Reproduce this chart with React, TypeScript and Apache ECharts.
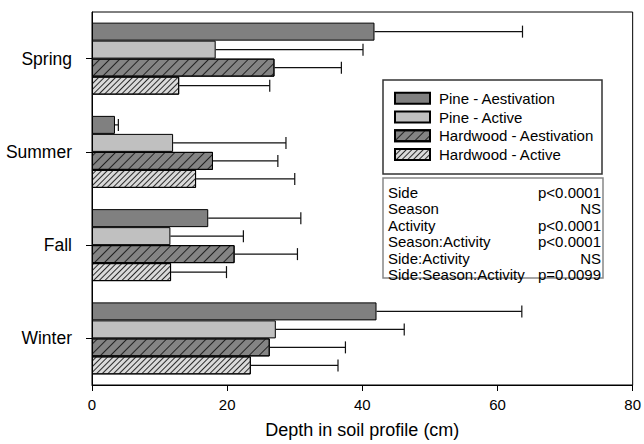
import React, { useEffect, useRef } from "react";
import * as echarts from "echarts";

// Seasons (top to bottom) and mean depth / standard error per group, in cm
const seasons = ["Spring", "Summer", "Fall", "Winter"];
const groupNames = [
  "Pine - Aestivation",
  "Pine - Active",
  "Hardwood - Aestivation",
  "Hardwood - Active",
];
const pineAestivation = [41.8, 3.4, 17.2, 42.1];
const pineAestivationErr = [21.9, 0.5, 13.7, 21.5];
const pineActive = [18.3, 12.0, 11.6, 27.2];
const pineActiveErr = [21.8, 16.7, 10.8, 19.0];
const hardwoodAestivation = [27.0, 17.9, 21.1, 26.3];
const hardwoodAestivationErr = [9.9, 9.6, 9.3, 11.2];
const hardwoodActive = [12.9, 15.4, 11.7, 23.5];
const hardwoodActiveErr = [13.4, 14.6, 8.2, 12.9];
const xTicks = [0, 20, 40, 60, 80];

// ANOVA summary
const effectNames = [
  "Side",
  "Season",
  "Activity",
  "Season:Activity",
  "Side:Activity",
  "Side:Season:Activity",
];
const effectP = ["p<0.0001", "NS", "p<0.0001", "p<0.0001", "NS", "p=0.0099"];

const FONT = "'Liberation Sans', Arial, sans-serif";
const BAR_W = 18;

const groups = [
  { name: groupNames[0], mean: pineAestivation, err: pineAestivationErr, fill: "#808080", decal: null },
  { name: groupNames[1], mean: pineActive, err: pineActiveErr, fill: "#c0c0c0", decal: null },
  {
    name: groupNames[2],
    mean: hardwoodAestivation,
    err: hardwoodAestivationErr,
    fill: "#848484",
    decal: { symbol: "rect", symbolSize: 1, color: "#222", dashArrayX: [1, 0], dashArrayY: [0.9, 5.5], rotation: -Math.PI / 4 },
  },
  {
    name: groupNames[3],
    mean: hardwoodActive,
    err: hardwoodActiveErr,
    fill: "#dadada",
    decal: { symbol: "rect", symbolSize: 1, color: "#2a2a2a", dashArrayX: [1, 0], dashArrayY: [0.8, 2.4], rotation: -Math.PI / 4 },
  },
];

export default function App() {
  const ref = useRef<HTMLDivElement>(null);

  useEffect(() => {
    if (!ref.current) return;
    const chart = echarts.init(ref.current, null, { renderer: "svg" });

    const barSeries = groups.map((g) => ({
      type: "bar",
      name: g.name,
      data: g.mean,
      barWidth: BAR_W,
      barGap: "0%",
      itemStyle: {
        color: g.fill,
        borderColor: "#000",
        borderWidth: 1,
        ...(g.decal ? { decal: g.decal } : {}),
      },
    }));

    // Upper standard-error whiskers, one per bar
    const errorSeries = groups.map((g, gi) => ({
      type: "custom",
      name: g.name + " err",
      data: g.mean.map((m, i) => [i, m, +(m + g.err[i]).toFixed(2)]),
      encode: { y: 0, x: [1, 2] },
      z: 3,
      renderItem: (_params: any, api: any) => {
        const cat = api.value(0);
        const p0 = api.coord([api.value(1), cat]);
        const p1 = api.coord([api.value(2), cat]);
        const y = p0[1] + (gi - 1.5) * BAR_W;
        const style = { stroke: "#111", lineWidth: 1.2 };
        return {
          type: "group",
          children: [
            { type: "line", shape: { x1: p0[0], y1: y, x2: p1[0], y2: y }, style },
            { type: "line", shape: { x1: p1[0], y1: y - 6, x2: p1[0], y2: y + 6 }, style },
          ],
        };
      },
    }));

    const statTexts: any[] = [];
    effectNames.forEach((n, i) => {
      statTexts.push({
        type: "text",
        x: 388,
        y: 192 + i * 16.5,
        style: { text: n, font: `15px ${FONT}`, fill: "#000", textAlign: "left", textVerticalAlign: "middle" },
        z: 20,
      });
      statTexts.push({
        type: "text",
        x: 601,
        y: 192 + i * 16.5,
        style: { text: effectP[i], font: `15px ${FONT}`, fill: "#000", textAlign: "right", textVerticalAlign: "middle" },
        z: 20,
      });
    });

    chart.setOption({
      animation: false,
      grid: {
        left: 92,
        right: 10,
        top: 12,
        bottom: 52,
        show: true,
        borderColor: "#000",
        borderWidth: 1,
      },
      xAxis: {
        type: "value",
        min: xTicks[0],
        max: xTicks[xTicks.length - 1],
        interval: 20,
        name: "Depth in soil profile (cm)",
        nameLocation: "middle",
        nameGap: 36,
        nameTextStyle: { fontFamily: FONT, fontSize: 18, color: "#000" },
        axisLine: { show: true, lineStyle: { color: "#000", width: 1 } },
        axisTick: { show: true, length: 6, lineStyle: { color: "#000" } },
        axisLabel: { fontFamily: FONT, fontSize: 15, color: "#000", margin: 12 },
        splitLine: { show: false },
      },
      yAxis: {
        type: "category",
        data: seasons,
        inverse: true,
        axisLine: { show: true, lineStyle: { color: "#000", width: 1 } },
        axisTick: { show: true, alignWithLabel: true, length: 6, lineStyle: { color: "#000" } },
        axisLabel: { fontFamily: FONT, fontSize: 17.5, color: "#000", margin: 20 },
      },
      legend: {
        data: groupNames,
        orient: "vertical",
        left: 394,
        top: 90,
        itemWidth: 35,
        itemHeight: 11,
        itemGap: 2,
        icon: "rect",
        padding: 0,
        textStyle: { fontFamily: FONT, fontSize: 15, color: "#000", lineHeight: 16.7, padding: [0, 0, 0, 4] },
      },
      graphic: [
        {
          type: "rect",
          shape: { x: 383, y: 80, width: 219, height: 94 },
          style: { fill: "rgba(255,255,255,0)", stroke: "#333", lineWidth: 1.5 },
          z: 15,
        },
        {
          type: "rect",
          shape: { x: 383, y: 178, width: 220, height: 100 },
          style: { fill: "#fff", stroke: "#888", lineWidth: 1.5 },
          z: 15,
        },
        ...statTexts,
      ],
      series: [...barSeries, ...errorSeries],
    });

    return () => chart.dispose();
  }, []);

  return (
    <div
      ref={ref}
      style={{ position: "fixed", left: 0, top: 0, width: 644, height: 444, background: "#fff" }}
    />
  );
}
